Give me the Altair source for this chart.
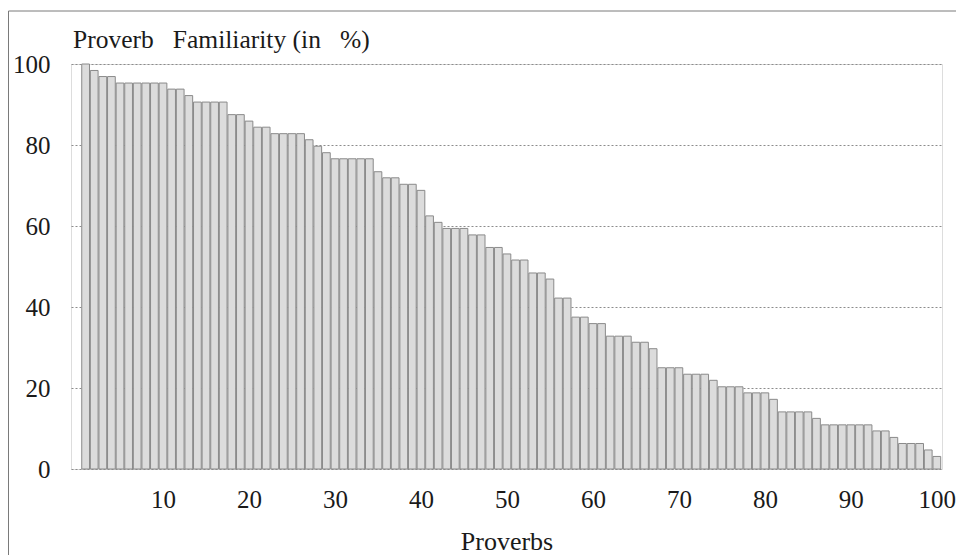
import altair as alt
import pandas as pd

# Familiarity (%) of each proverb, ranked from most to least familiar
familiarity = [
    100.0, 98.4, 96.9, 96.9, 95.3, 95.3, 95.3, 95.3, 95.3, 95.3,
    93.8, 93.8, 92.2, 90.6, 90.6, 90.6, 90.6, 87.5, 87.5, 85.9,
    84.4, 84.4, 82.8, 82.8, 82.8, 82.8, 81.3, 79.7, 78.1, 76.6,
    76.6, 76.6, 76.6, 76.6, 73.4, 71.9, 71.9, 70.3, 70.3, 68.8,
    62.5, 60.9, 59.4, 59.4, 59.4, 57.8, 57.8, 54.7, 54.7, 53.1,
    51.6, 51.6, 48.4, 48.4, 46.9, 42.2, 42.2, 37.5, 37.5, 35.9,
    35.9, 32.8, 32.8, 32.8, 31.3, 31.3, 29.7, 25.0, 25.0, 25.0,
    23.4, 23.4, 23.4, 21.9, 20.3, 20.3, 20.3, 18.8, 18.8, 18.8,
    17.2, 14.1, 14.1, 14.1, 14.1, 12.5, 10.9, 10.9, 10.9, 10.9,
    10.9, 10.9, 9.4, 9.4, 7.8, 6.3, 6.3, 6.3, 4.7, 3.1,
]
proverbs = list(range(1, len(familiarity) + 1))
x_ticks = [10, 20, 30, 40, 50, 60, 70, 80, 90, 100]
y_ticks = [0, 20, 40, 60, 80, 100]
title_text = "Proverb\u00a0\u00a0 Familiarity (in\u00a0\u00a0 %)"
x_title = "Proverbs"

df = pd.DataFrame({"proverb": proverbs, "pct": familiarity})

W, H = 871, 405
FONT = "Liberation Serif"
TXT = "#1a1a1a"

xscale = alt.Scale(domain=[-0.7, 100.6], nice=False, zero=False)
yscale = alt.Scale(domain=[0, 100], nice=False)

bars = (
    alt.Chart(df)
    .transform_calculate(lo="datum.proverb - 0.45", hi="datum.proverb + 0.45")
    .mark_rect(fill="#dcdcdc", stroke="#8a8a8a", strokeWidth=1)
    .encode(
        x=alt.X(
            "lo:Q",
            scale=xscale,
            axis=alt.Axis(
                values=x_ticks,
                title=x_title,
                grid=False,
                domain=False,
                ticks=False,
                labelFont=FONT,
                labelFontSize=25,
                labelColor=TXT,
                labelPadding=18,
                titleFont=FONT,
                titleFontSize=26,
                titleFontWeight="normal",
                titleColor=TXT,
                titleBaseline="alphabetic",
                titleY=80,
            ),
        ),
        x2="hi:Q",
        y=alt.Y(
            "pct:Q",
            scale=yscale,
            axis=alt.Axis(
                values=y_ticks,
                title=None,
                grid=True,
                gridColor="#8c8c8c",
                gridDash=[2, 2],
                gridWidth=1,
                domain=False,
                ticks=False,
                labelFont=FONT,
                labelFontSize=25,
                labelColor=TXT,
                labelPadding=21,
            ),
        ),
    )
)

one = pd.DataFrame({"k": [0]})

title_mark = (
    alt.Chart(one)
    .mark_text(
        text=title_text,
        font=FONT,
        fontSize=25.5,
        color=TXT,
        align="left",
        baseline="alphabetic",
    )
    .encode(x=alt.value(2), y=alt.value(-16))
)

border_left = (
    alt.Chart(one)
    .mark_rule(color="#7a7a7a", strokeWidth=1)
    .encode(x=alt.value(-62.5), y=alt.value(-53), y2=alt.value(H + 100))
)
border_top = (
    alt.Chart(one)
    .mark_rule(color="#7a7a7a", strokeWidth=1)
    .encode(y=alt.value(-53), x=alt.value(-62.5), x2=alt.value(W + 40))
)

chart = (
    alt.layer(bars, title_mark, border_left, border_top)
    .properties(
        width=W,
        height=H,
        padding={"left": 63, "top": 56, "right": 14, "bottom": 86},
        autosize=alt.AutoSizeParams(type="none"),
    )
    .configure_view(stroke="#333333", strokeWidth=1.5)
    .configure(background="white")
)

chart.save("out.html", embed_options={"renderer": "svg", "actions": False})
